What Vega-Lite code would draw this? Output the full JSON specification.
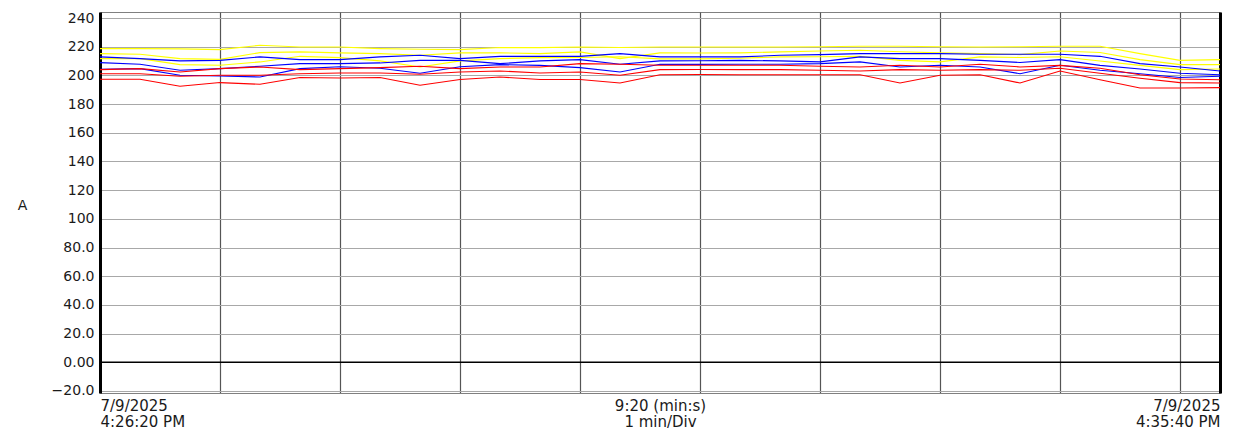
{
  "$schema": "https://vega.github.io/schema/vega-lite/v6.json",
  "width": 1120,
  "height": 381,
  "autosize": "none",
  "padding": {"left": 100, "top": 12, "right": 18, "bottom": 40},
  "background": "white",
  "config": {"view": {"stroke": "#808080", "strokeWidth": 1}, "font": "DejaVu Sans"},
  "data": {"values": [
    {"t": 0, "Y1": 218.7, "Y2": 215.2, "Y3": 211.7, "B1": 212.9, "B2": 208.9, "B3": 204.3, "R1": 204, "R2": 201.2, "R3": 197.3},
    {"t": 20, "Y1": 218.7, "Y2": 214.7, "Y3": 211.7, "B1": 211.7, "B2": 207.8, "B3": 204.7, "R1": 204.7, "R2": 201.2, "R3": 197.3},
    {"t": 40, "Y1": 218.5, "Y2": 211.7, "Y3": 207.5, "B1": 210.1, "B2": 203.6, "B3": 200.1, "R1": 202.4, "R2": 199.4, "R3": 192.4},
    {"t": 60, "Y1": 218, "Y2": 211.2, "Y3": 207.1, "B1": 210.5, "B2": 204.7, "B3": 199.6, "R1": 204.7, "R2": 200.1, "R3": 195},
    {"t": 80, "Y1": 221, "Y2": 215.9, "Y3": 209.4, "B1": 212.9, "B2": 206.4, "B3": 198.9, "R1": 205.9, "R2": 200.1, "R3": 193.8},
    {"t": 100, "Y1": 219.8, "Y2": 216.4, "Y3": 213.3, "B1": 211, "B2": 208.2, "B3": 204.7, "R1": 204, "R2": 201.2, "R3": 198.5},
    {"t": 120, "Y1": 219.8, "Y2": 215.7, "Y3": 212.4, "B1": 211, "B2": 208.2, "B3": 206, "R1": 204.7, "R2": 201.7, "R3": 198.2},
    {"t": 140, "Y1": 218.7, "Y2": 215.2, "Y3": 210.1, "B1": 212.9, "B2": 208.7, "B3": 205, "R1": 205.4, "R2": 201.7, "R3": 198.5},
    {"t": 160, "Y1": 218.2, "Y2": 214, "Y3": 205.9, "B1": 214, "B2": 210.5, "B3": 201.5, "R1": 206.4, "R2": 200.8, "R3": 193.1},
    {"t": 180, "Y1": 218, "Y2": 215.7, "Y3": 210.1, "B1": 211.7, "B2": 210.5, "B3": 206, "R1": 204.7, "R2": 202.4, "R3": 197.1},
    {"t": 200, "Y1": 219.4, "Y2": 215.7, "Y3": 211.7, "B1": 213.3, "B2": 208.2, "B3": 207.5, "R1": 205.9, "R2": 203.1, "R3": 198.9},
    {"t": 220, "Y1": 219.4, "Y2": 215.2, "Y3": 212.4, "B1": 213.3, "B2": 210.1, "B3": 207, "R1": 205.9, "R2": 201.7, "R3": 197.1},
    {"t": 240, "Y1": 219.8, "Y2": 216.4, "Y3": 212.5, "B1": 213.3, "B2": 211, "B3": 205.4, "R1": 208.2, "R2": 202.4, "R3": 197.1},
    {"t": 260, "Y1": 219.5, "Y2": 211.7, "Y3": 213, "B1": 215.2, "B2": 207.8, "B3": 202.4, "R1": 207.8, "R2": 200.1, "R3": 194.7},
    {"t": 280, "Y1": 219.8, "Y2": 215.7, "Y3": 211.5, "B1": 212.9, "B2": 210.1, "B3": 207.8, "R1": 207.1, "R2": 204, "R3": 200.5},
    {"t": 300, "Y1": 219.8, "Y2": 215.6, "Y3": 211.5, "B1": 212.9, "B2": 210.2, "B3": 207.7, "R1": 207.1, "R2": 204.1, "R3": 200.6},
    {"t": 320, "Y1": 219.8, "Y2": 215.7, "Y3": 212, "B1": 212.9, "B2": 210.5, "B3": 207.8, "R1": 207.1, "R2": 204, "R3": 200.5},
    {"t": 340, "Y1": 219.8, "Y2": 216.4, "Y3": 212.9, "B1": 214, "B2": 210.1, "B3": 207.8, "R1": 207.1, "R2": 204, "R3": 200.5},
    {"t": 360, "Y1": 220, "Y2": 217, "Y3": 213, "B1": 214.5, "B2": 209.4, "B3": 208.2, "R1": 206.4, "R2": 203.6, "R3": 200.5},
    {"t": 380, "Y1": 220.3, "Y2": 217.5, "Y3": 213.3, "B1": 215.2, "B2": 212.9, "B3": 209.4, "R1": 205.9, "R2": 203.1, "R3": 200.5},
    {"t": 400, "Y1": 220.3, "Y2": 216.5, "Y3": 210.5, "B1": 215.2, "B2": 211.7, "B3": 205.9, "R1": 207.1, "R2": 204, "R3": 194.7},
    {"t": 420, "Y1": 220, "Y2": 215.7, "Y3": 209.4, "B1": 215.2, "B2": 211.7, "B3": 207.1, "R1": 205.9, "R2": 203.6, "R3": 200.1},
    {"t": 440, "Y1": 219.8, "Y2": 215.2, "Y3": 212.9, "B1": 214.7, "B2": 210.5, "B3": 205.9, "R1": 207.8, "R2": 204, "R3": 200.5},
    {"t": 460, "Y1": 220, "Y2": 214.5, "Y3": 212.5, "B1": 214.7, "B2": 209, "B3": 201.2, "R1": 205.9, "R2": 203.6, "R3": 194.7},
    {"t": 480, "Y1": 220.3, "Y2": 217, "Y3": 213, "B1": 214.7, "B2": 211, "B3": 207.1, "R1": 207, "R2": 205, "R3": 203.1},
    {"t": 500, "Y1": 220.3, "Y2": 216, "Y3": 210, "B1": 213.3, "B2": 207, "B3": 203.6, "R1": 205, "R2": 201.5, "R3": 197},
    {"t": 520, "Y1": 215.2, "Y2": 211, "Y3": 207, "B1": 208.2, "B2": 204.5, "B3": 201.2, "R1": 200.5, "R2": 198, "R3": 191.2},
    {"t": 540, "Y1": 210.5, "Y2": 207.5, "Y3": 204, "B1": 205.9, "B2": 201.5, "B3": 198.5, "R1": 197.5, "R2": 195, "R3": 191.2},
    {"t": 560, "Y1": 211, "Y2": 207.5, "Y3": 204.5, "B1": 203.1, "B2": 200.5, "B3": 199.4, "R1": 197, "R2": 194.7, "R3": 191.5}
  ]},
  "layer": [
    {
      "transform": [{"fold": ["Y1", "Y2", "Y3", "B1", "B2", "B3", "R1", "R2", "R3"], "as": ["series", "value"]}],
      "mark": {"type": "line", "strokeWidth": 1.1, "clip": true},
      "encoding": {
        "x": {
          "field": "t", "type": "quantitative",
          "scale": {"domain": [0, 560], "nice": false, "zero": false},
          "axis": {
            "values": [0, 60, 120, 180, 240, 300, 360, 420, 480, 540, 280, 560],
            "title": null,
            "grid": true,
            "gridColor": {"condition": {"test": "datum.value == 0 || datum.value == 280 || datum.value == 560", "value": "transparent"}, "value": "#555555"},
            "gridWidth": 1.2,
            "ticks": false,
            "domainColor": "#808080",
            "domainWidth": 1,
            "labelExpr": "datum.value == 0 ? ['7/9/2025', '4:26:20 PM'] : datum.value == 280 ? ['9:20 (min:s)', '1 min/Div'] : datum.value == 560 ? ['7/9/2025', '4:35:40 PM'] : ''",
            "labelAlign": {"condition": [{"test": "datum.value == 0", "value": "left"}, {"test": "datum.value == 560", "value": "right"}], "value": "center"},
            "labelBaseline": "top",
            "labelPadding": 5,
            "labelLineHeight": 16,
            "labelFontSize": 15,
            "labelColor": "#1a1a1a",
            "labelOverlap": false,
            "labelBound": false,
            "labelFlush": false
          }
        },
        "y": {
          "field": "value", "type": "quantitative",
          "scale": {"domain": [-21.4, 244.2], "nice": false, "zero": false},
          "axis": {
            "values": [-20, 0, 20, 40, 60, 80, 100, 120, 140, 160, 180, 200, 220, 240],
            "labelExpr": "datum.value >= 100 ? format(datum.value, 'd') : datum.value == 0 ? '0.00' : format(datum.value, '.1f')",
            "labelFontSize": 14,
            "labelColor": "#1a1a1a",
            "labelPadding": 6,
            "ticks": false,
            "grid": true,
            "gridColor": "#a8a8a8",
            "gridWidth": 1,
            "domainColor": "black",
            "domainWidth": 3,
            "title": "A",
            "titleAngle": 0,
            "titleX": -78,
            "titleY": 193,
            "titleAlign": "center",
            "titleBaseline": "middle",
            "titleFontSize": 14,
            "titleFontWeight": "normal",
            "titleColor": "#1a1a1a"
          }
        },
        "color": {
          "field": "series", "type": "nominal",
          "scale": {"domain": ["Y1", "Y2", "Y3", "B1", "B2", "B3", "R1", "R2", "R3"],
                    "range": ["#ffff00", "#ffff00", "#ffff00", "#0000ff", "#0000ff", "#0000ff", "#ff0000", "#ff0000", "#ff0000"]},
          "legend": null
        },
        "order": {"field": "t", "type": "quantitative"}
      }
    },
    {
      "data": {"values": [{"ref": 0}]},
      "mark": {"type": "rule", "color": "black", "strokeWidth": 1.5},
      "encoding": {
        "y": {
          "field": "ref", "type": "quantitative",
          "scale": {"domain": [-21.4, 244.2], "nice": false, "zero": false},
          "axis": {"orient": "right", "labels": false, "ticks": false, "grid": false, "domainColor": "black", "domainWidth": 3, "title": null}
        }
      }
    }
  ],
  "resolve": {"axis": {"y": "independent"}}
}
